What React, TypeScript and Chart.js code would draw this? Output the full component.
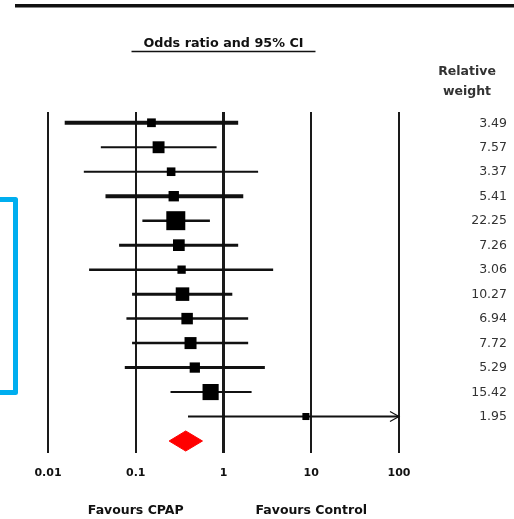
import { useEffect, useRef } from "react";
import { Chart, registerables } from "chart.js";

Chart.register(...registerables);

// Study-level results (odds ratio with 95% confidence interval) and relative weights
const oddsRatios = [0.151, 0.182, 0.253, 0.271, 0.286, 0.31, 0.333, 0.341, 0.385, 0.421, 0.471, 0.713, 8.69];
const ciLower = [0.0155, 0.04, 0.0256, 0.0452, 0.119, 0.0646, 0.0294, 0.0908, 0.0783, 0.0908, 0.075, 0.249, 0.394];
const ciUpper = [1.47, 0.834, 2.48, 1.68, 0.7, 1.47, 3.68, 1.26, 1.91, 1.91, 2.96, 2.09, 180];
const relativeWeights = [3.49, 7.57, 3.37, 5.41, 22.25, 7.26, 3.06, 10.27, 6.94, 7.72, 5.29, 15.42, 1.95];
const weightLabels = ["3.49", "7.57", "3.37", "5.41", "22.25", "7.26", "3.06", "10.27", "6.94", "7.72", "5.29", "15.42", "1.95"];

// Pooled estimate
const pooledOR = 0.371;
const pooledLower = 0.24;
const pooledUpper = 0.576;

// Axis
const axisTicks = [0.01, 0.1, 1, 10, 100];
const tickLabels = ["0.01", "0.1", "1", "10", "100"];
const favourLabels = ["Favours CPAP", "Favours Control"];
const favourAt = [0.1, 10];

// Stroke widths of the confidence-interval lines
const ciStroke = [4, 2, 2, 4, 2.5, 3, 2.5, 3, 2.5, 2.5, 3, 2, 2];

const FONT = '"DejaVu Sans", Verdana, sans-serif';
const X_MIN = 0.01;
const X_MAX = 100;
const POOLED_ROW = oddsRatios.length + 1;

const overlayPlugin = {
  id: "forestOverlay",
  afterDraw(chart: any) {
    const { ctx } = chart;
    const xs = chart.scales.x;
    const ys = chart.scales.y;
    ctx.save();

    // heavy rule across the top
    ctx.fillStyle = "#111";
    ctx.fillRect(15, 4, 499, 3.5);

    // heading over the plot
    const cx = (xs.getPixelForValue(X_MIN) + xs.getPixelForValue(X_MAX)) / 2;
    ctx.font = `bold 12.75px ${FONT}`;
    ctx.fillStyle = "#111";
    ctx.textAlign = "center";
    ctx.textBaseline = "middle";
    const title = "Odds ratio and 95% CI";
    ctx.fillText(title, cx, 44);
    const tw = ctx.measureText(title).width;
    ctx.strokeStyle = "#111";
    ctx.lineWidth = 1.5;
    ctx.beginPath();
    ctx.moveTo(cx - tw / 2 - 12, 51.5);
    ctx.lineTo(cx + tw / 2 + 12, 51.5);
    ctx.stroke();

    // weight column
    ctx.font = `bold 12.5px ${FONT}`;
    ctx.fillStyle = "#333";
    ctx.fillText("Relative", 467, 72);
    ctx.fillText("weight", 467, 92);
    ctx.textAlign = "right";
    ctx.font = `12.5px ${FONT}`;
    ctx.fillStyle = "#333";
    weightLabels.forEach((w, i) => {
      ctx.fillText(w, 507, ys.getPixelForValue(i + 1) + 0.5);
    });

    // arrow where an interval runs past the axis
    ctx.strokeStyle = "#111";
    ctx.lineWidth = 1.2;
    ciUpper.forEach((hi, i) => {
      if (hi > X_MAX) {
        const ax = xs.getPixelForValue(X_MAX);
        const ay = ys.getPixelForValue(i + 1);
        ctx.beginPath();
        ctx.moveTo(ax - 9, ay - 5);
        ctx.lineTo(ax, ay);
        ctx.lineTo(ax - 9, ay + 5);
        ctx.stroke();
      }
    });

    // direction labels
    ctx.font = `bold 12.5px ${FONT}`;
    ctx.fillStyle = "#111";
    ctx.textAlign = "center";
    favourLabels.forEach((t, i) => {
      ctx.fillText(t, xs.getPixelForValue(favourAt[i]), 511);
    });

    // blue bracket on the left margin
    ctx.strokeStyle = "#00AEEF";
    ctx.lineWidth = 5;
    ctx.lineJoin = "round";
    ctx.beginPath();
    ctx.moveTo(0, 199.5);
    ctx.lineTo(15.5, 199.5);
    ctx.lineTo(15.5, 392.5);
    ctx.lineTo(0, 392.5);
    ctx.stroke();

    ctx.restore();
  },
};

export default function App() {
  const canvasRef = useRef<HTMLCanvasElement | null>(null);

  useEffect(() => {
    const canvas = canvasRef.current;
    if (!canvas) return;

    const ciSets = oddsRatios.map((_, i) => ({
      type: "line" as const,
      data: [
        { x: ciLower[i], y: i + 1 },
        { x: ciUpper[i], y: i + 1 },
      ],
      showLine: true,
      borderColor: "#111",
      borderWidth: ciStroke[i],
      pointRadius: 0,
      fill: false,
      order: 2,
    }));

    const boxes = {
      type: "scatter" as const,
      data: oddsRatios.map((v, i) => ({ x: v, y: i + 1 })),
      pointStyle: "rect",
      pointRadius: relativeWeights.map((w) => (2 + 3.6 * Math.sqrt(w)) / Math.SQRT2),
      backgroundColor: "#000",
      borderColor: "#000",
      borderWidth: 0,
      order: 1,
    };

    const half = 0.41;
    const diamond = {
      type: "line" as const,
      data: [
        { x: pooledLower, y: POOLED_ROW },
        { x: pooledOR, y: POOLED_ROW - half },
        { x: pooledUpper, y: POOLED_ROW },
        { x: pooledOR, y: POOLED_ROW + half },
        { x: pooledLower, y: POOLED_ROW },
      ],
      showLine: true,
      fill: "shape",
      tension: 0,
      borderColor: "#ff0000",
      backgroundColor: "#ff0000",
      borderWidth: 1,
      pointRadius: 0,
      order: 0,
    };

    const chart = new Chart(canvas, {
      type: "scatter",
      data: { datasets: [...ciSets, boxes, diamond] as any },
      options: {
        animation: false,
        responsive: false,
        devicePixelRatio: 1,
        layout: { padding: { left: 48, right: 115, top: 112, bottom: 36 } },
        plugins: {
          legend: { display: false },
          tooltip: { enabled: false },
        },
        scales: {
          x: {
            type: "logarithmic",
            min: X_MIN,
            max: X_MAX,
            afterBuildTicks: (s: any) => {
              s.ticks = axisTicks.map((v) => ({ value: v }));
            },
            afterFit: (s: any) => {
              s.height = 30;
            },
            ticks: {
              autoSkip: false,
              maxRotation: 0,
              padding: 14,
              color: "#111",
              font: { family: FONT, size: 11, weight: "bold" },
              callback: (_v: any, i: number) => tickLabels[i],
            },
            grid: {
              color: "#1a1a1a",
              lineWidth: (c: any) => (c.tick && c.tick.value === 1 ? 3 : 2),
              drawTicks: false,
            },
            border: { display: false },
          },
          y: {
            type: "linear",
            min: 0.56,
            max: 14.49,
            reverse: true,
            display: false,
          },
        },
      } as any,
      plugins: [overlayPlugin],
    });

    return () => chart.destroy();
  }, []);

  return (
    <div style={{ position: "fixed", left: 0, top: 0, width: 514, height: 519, background: "#fff" }}>
      <canvas ref={canvasRef} width={514} height={519} style={{ display: "block" }} />
    </div>
  );
}
